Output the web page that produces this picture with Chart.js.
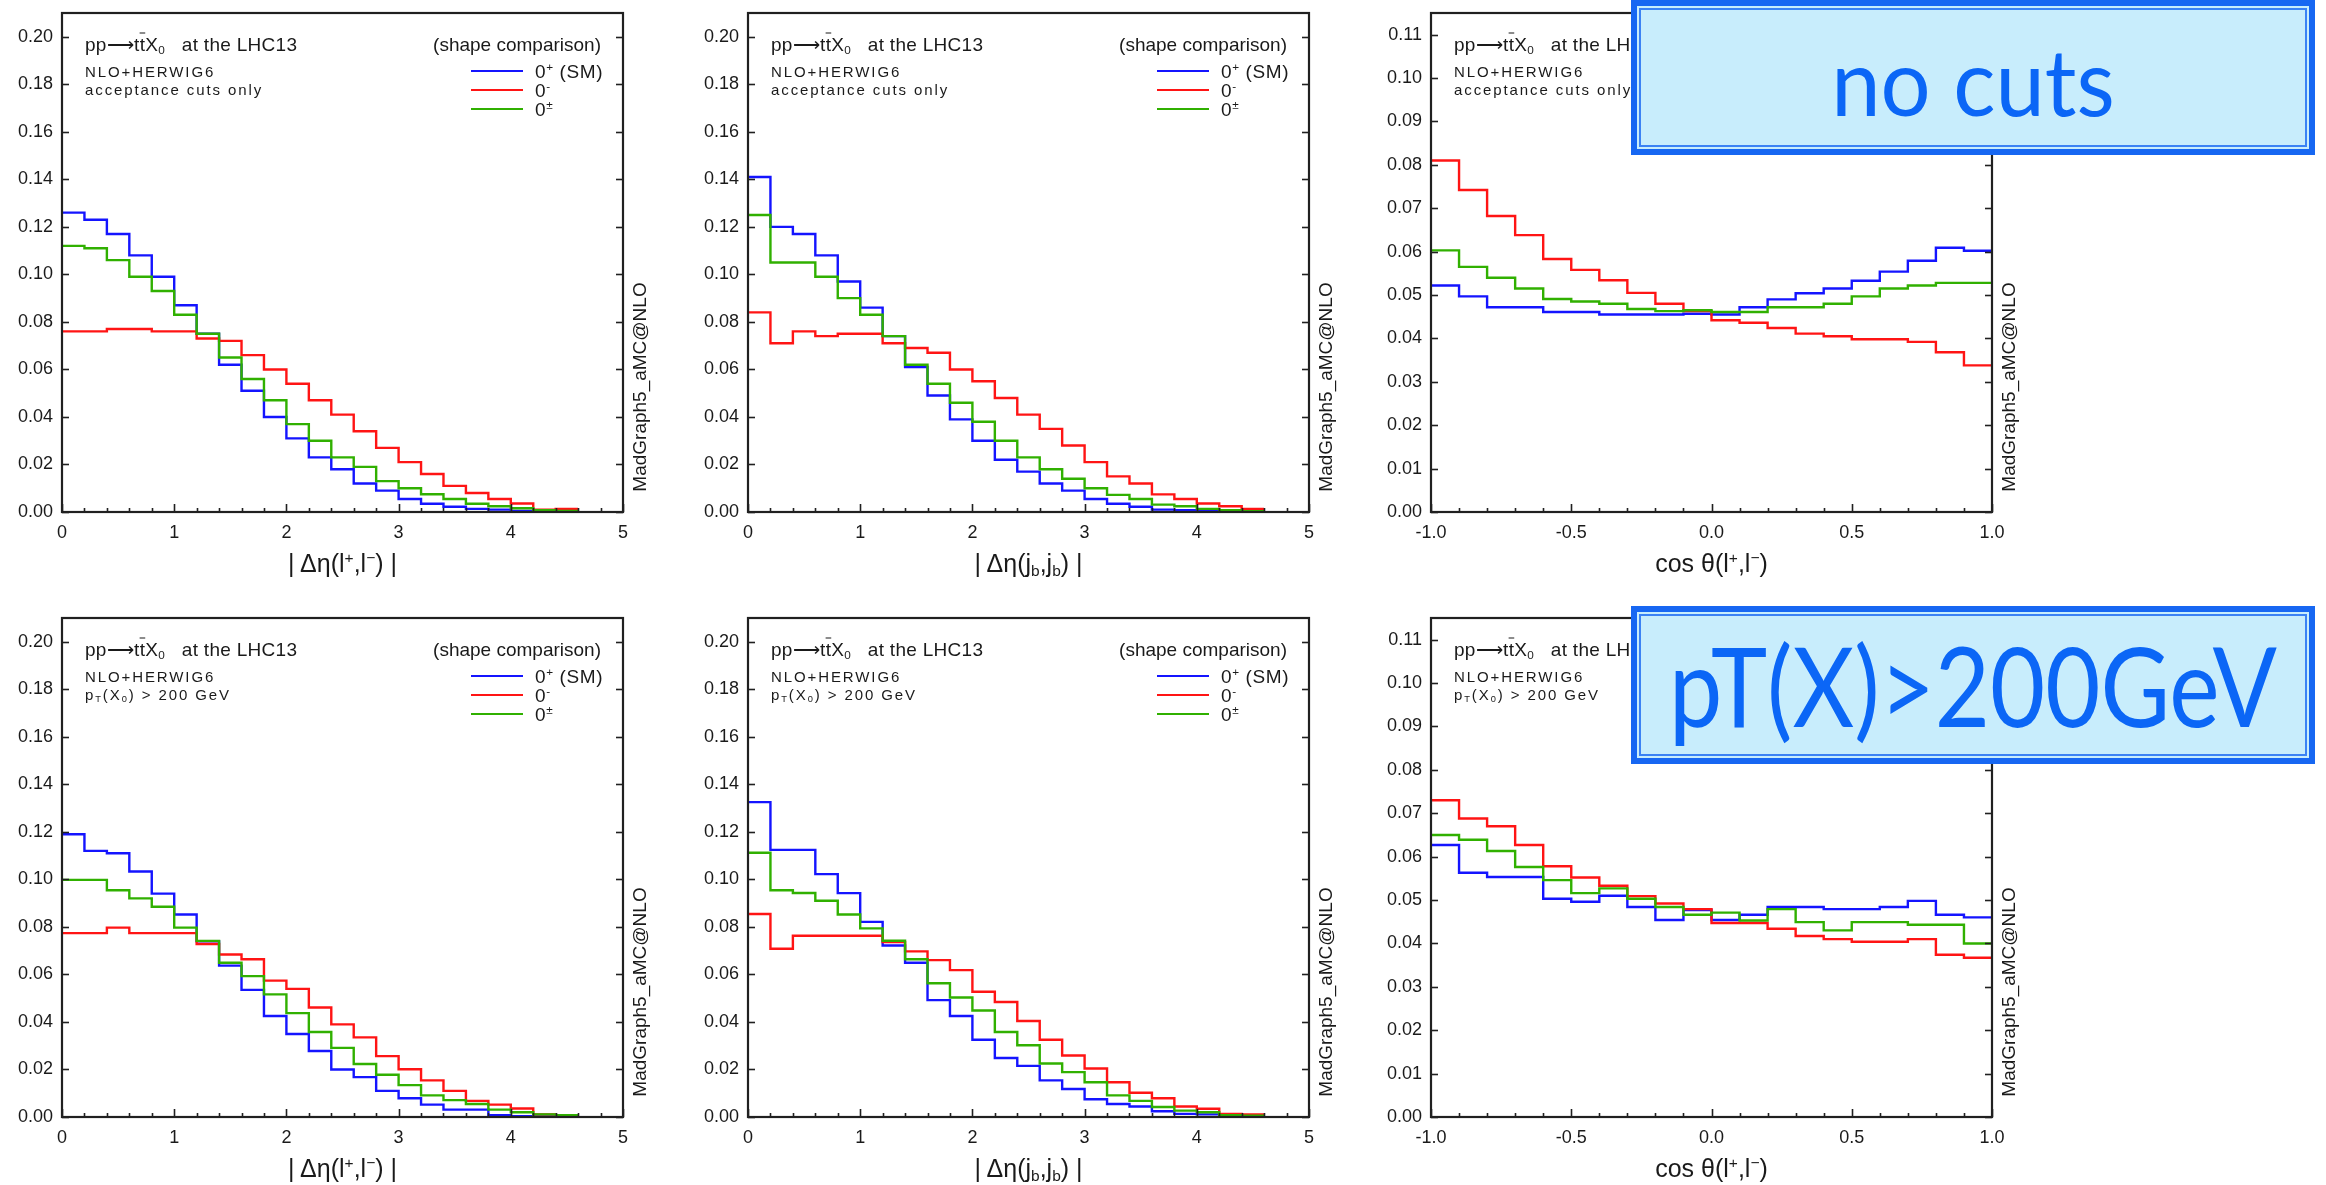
<!DOCTYPE html>
<html>
<head>
<meta charset="utf-8">
<title>ttX0 shape comparison</title>
<script src="https://cdn.jsdelivr.net/npm/chart.js@4.4.1/dist/chart.umd.min.js"></script>
<style>
  body { margin: 0; background: #fff; }
  #page { position: relative; width: 2326px; height: 1185px; overflow: hidden; font-family: "Liberation Sans", Arial, sans-serif; color: #1a1a1a; }
  canvas { position: absolute; }
  .overlay { position: absolute; pointer-events: none; }
  .t { position: absolute; white-space: nowrap; line-height: 1; transform: translateY(-50%); }
  .small { font-size: 15px; letter-spacing: 1.9px; }
  .ov { text-decoration: overline; }
  sub, sup { font-size: 0.62em; line-height: 0; }
  sub { vertical-align: -0.3em; }
  sup { vertical-align: 0.55em; }
  .key { position: absolute; height: 0; border-top: 2.5px solid; }
  .madgraph { position: absolute; font-size: 19px; white-space: nowrap; line-height: 1; transform: translate(-50%, -50%) rotate(-90deg); }
  .xtitle { position: absolute; font-size: 25px; white-space: nowrap; line-height: 1; transform: translate(-50%, -50%); }
  .stamp { position: absolute; box-sizing: border-box; background: #c8edfc; border: 6px solid #1767f2; box-shadow: inset 0 0 0 2px #c8edfc, inset 0 0 0 4px #3b82f4; z-index: 5; }
  .stamp span { position: absolute; left: 50%; font-family: Lato, "Open Sans", sans-serif; color: #0b66f6; white-space: nowrap; line-height: 1; transform-origin: 50% 50%; }
</style>
</head>
<body>
<div id="page"></div>
<script>
// Bin edges (lower edges plus the last upper edge)
const etaEdges = [0, 0.2, 0.4, 0.6, 0.8, 1.0, 1.2, 1.4, 1.6, 1.8, 2.0, 2.2, 2.4, 2.6, 2.8, 3.0, 3.2, 3.4, 3.6, 3.8, 4.0, 4.2, 4.4, 4.6];
const cosEdges = [-1.0, -0.9, -0.8, -0.7, -0.6, -0.5, -0.4, -0.3, -0.2, -0.1, 0.0, 0.1, 0.2, 0.3, 0.4, 0.5, 0.6, 0.7, 0.8, 0.9, 1.0];

// |Delta eta(l+,l-)|, acceptance cuts only
const llNoCutSM = [0.126, 0.123, 0.117, 0.108, 0.099, 0.087, 0.075, 0.062, 0.051, 0.040, 0.031, 0.023, 0.018, 0.012, 0.009, 0.0055, 0.0035, 0.0022, 0.0013, 0.001, 0.0004, 0.0002, 0.0001];
const llNoCutMinus = [0.076, 0.076, 0.077, 0.077, 0.076, 0.076, 0.073, 0.072, 0.066, 0.060, 0.054, 0.047, 0.041, 0.034, 0.027, 0.021, 0.016, 0.011, 0.008, 0.0055, 0.0036, 0.001, 0.0013];
const llNoCutMix = [0.112, 0.111, 0.106, 0.099, 0.093, 0.083, 0.075, 0.065, 0.056, 0.047, 0.037, 0.030, 0.023, 0.019, 0.013, 0.010, 0.0075, 0.0055, 0.0035, 0.0024, 0.0016, 0.0008, 0.0004];

// |Delta eta(jb,jb)|, acceptance cuts only
const bbNoCutSM = [0.141, 0.120, 0.117, 0.108, 0.097, 0.086, 0.074, 0.061, 0.049, 0.039, 0.030, 0.022, 0.017, 0.012, 0.009, 0.0055, 0.0035, 0.0022, 0.001, 0.0008, 0.0005, 0.0003, 0.0001];
const bbNoCutMinus = [0.084, 0.071, 0.076, 0.074, 0.075, 0.075, 0.071, 0.069, 0.067, 0.060, 0.055, 0.048, 0.041, 0.035, 0.028, 0.021, 0.015, 0.012, 0.0074, 0.0055, 0.0036, 0.0024, 0.0013];
const bbNoCutMix = [0.125, 0.105, 0.105, 0.099, 0.090, 0.083, 0.074, 0.062, 0.054, 0.046, 0.038, 0.030, 0.023, 0.018, 0.014, 0.010, 0.0072, 0.0055, 0.0031, 0.0024, 0.0013, 0.0008, 0.0003];

// cos theta(l+,l-), acceptance cuts only
const cosNoCutSM = [0.0522, 0.0497, 0.0472, 0.0472, 0.0461, 0.0461, 0.0455, 0.0455, 0.0455, 0.0457, 0.0455, 0.0472, 0.049, 0.0504, 0.0515, 0.0533, 0.0554, 0.0579, 0.0609, 0.0602];
const cosNoCutMinus = [0.081, 0.0742, 0.0682, 0.0638, 0.0583, 0.0558, 0.0534, 0.0505, 0.048, 0.0463, 0.0442, 0.0436, 0.0424, 0.0411, 0.0405, 0.0398, 0.0398, 0.0392, 0.0368, 0.0338];
const cosNoCutMix = [0.0603, 0.0565, 0.054, 0.0515, 0.0491, 0.0485, 0.048, 0.0468, 0.0463, 0.0465, 0.0461, 0.0461, 0.0472, 0.0472, 0.048, 0.0497, 0.0515, 0.0522, 0.0528, 0.0528];

// |Delta eta(l+,l-)|, pT(X0) > 200 GeV
const llPtSM = [0.119, 0.112, 0.111, 0.1033, 0.094, 0.0852, 0.0739, 0.0637, 0.0535, 0.0425, 0.0349, 0.0278, 0.020, 0.0168, 0.011, 0.0079, 0.0052, 0.0031, 0.0031, 0.0008, 0.0003, 0.0002, 0.0001];
const llPtMinus = [0.0774, 0.0774, 0.0797, 0.0774, 0.0774, 0.0774, 0.0728, 0.0684, 0.0664, 0.0574, 0.0539, 0.0461, 0.039, 0.0335, 0.0256, 0.0201, 0.0154, 0.011, 0.0068, 0.0052, 0.0036, 0.0011, 0.0008];
const llPtMix = [0.0998, 0.0998, 0.0954, 0.092, 0.0885, 0.0797, 0.0741, 0.0649, 0.0593, 0.0516, 0.0437, 0.0358, 0.0291, 0.0223, 0.0178, 0.0134, 0.0091, 0.0071, 0.0055, 0.0031, 0.002, 0.0011, 0.0008];

// |Delta eta(jb,jb)|, pT(X0) > 200 GeV
const bbPtSM = [0.1325, 0.1124, 0.1124, 0.1022, 0.0942, 0.0821, 0.0722, 0.0649, 0.0492, 0.0425, 0.0325, 0.0248, 0.0215, 0.0154, 0.0118, 0.0075, 0.0055, 0.0044, 0.0024, 0.0013, 0.0011, 0.0005, 0.0002];
const bbPtMinus = [0.0854, 0.0708, 0.0763, 0.0763, 0.0763, 0.0763, 0.0736, 0.0697, 0.066, 0.0618, 0.0527, 0.0484, 0.0404, 0.0325, 0.0259, 0.0204, 0.0146, 0.0102, 0.0079, 0.0044, 0.0035, 0.0013, 0.0011];
const bbPtMix = [0.1112, 0.0954, 0.0943, 0.091, 0.0852, 0.0794, 0.0742, 0.0664, 0.0563, 0.0503, 0.0448, 0.0358, 0.0302, 0.0225, 0.0189, 0.0146, 0.0091, 0.0068, 0.0042, 0.0027, 0.002, 0.0008, 0.0005];

// cos theta(l+,l-), pT(X0) > 200 GeV
const cosPtSM = [0.0627, 0.0563, 0.0553, 0.0553, 0.0503, 0.0496, 0.051, 0.0484, 0.0454, 0.0477, 0.0454, 0.0466, 0.0484, 0.0484, 0.0479, 0.0479, 0.0484, 0.0498, 0.0466, 0.046];
const cosPtMinus = [0.073, 0.0688, 0.067, 0.0627, 0.0578, 0.0552, 0.0533, 0.0509, 0.0492, 0.0479, 0.0447, 0.0447, 0.0434, 0.0417, 0.041, 0.0404, 0.0404, 0.041, 0.0374, 0.0367];
const cosPtMix = [0.065, 0.0639, 0.0613, 0.0576, 0.0546, 0.0516, 0.0527, 0.0503, 0.0484, 0.0466, 0.0471, 0.0453, 0.0479, 0.0449, 0.043, 0.0449, 0.0449, 0.0443, 0.0443, 0.04];

const seriesLabels = ['0<sup>+</sup> (SM)', '0<sup>-</sup>', '0<sup>±</sup>'];
const COLORS = ['#1414ff', '#ff1414', '#30b000'];

const PLOT_W = 561, PLOT_H = 499;
const PAD_L = 62, PAD_T = 30, PAD_R = 40, PAD_B = 40;

const TITLE_LL = '| Δη(l<sup>+</sup>,l<sup>−</sup>) |';
const TITLE_BB = '| Δη(j<sub>b</sub>,j<sub>b</sub>) |';
const TITLE_COS = 'cos θ(l<sup>+</sup>,l<sup>−</sup>)';
const CUT_ACC = 'acceptance cuts only';
const CUT_PT = 'p<sub>T</sub>(X<sub>0</sub>) &gt; 200 GeV';

const panels = [
  { left: 62, top: 13, kind: 'eta', edges: etaEdges, series: [llNoCutSM, llNoCutMinus, llNoCutMix], xTitle: TITLE_LL, cut: CUT_ACC },
  { left: 748, top: 13, kind: 'eta', edges: etaEdges, series: [bbNoCutSM, bbNoCutMinus, bbNoCutMix], xTitle: TITLE_BB, cut: CUT_ACC },
  { left: 1431, top: 13, kind: 'cos', edges: cosEdges, series: [cosNoCutSM, cosNoCutMinus, cosNoCutMix], xTitle: TITLE_COS, cut: CUT_ACC },
  { left: 62, top: 618, kind: 'eta', edges: etaEdges, series: [llPtSM, llPtMinus, llPtMix], xTitle: TITLE_LL, cut: CUT_PT },
  { left: 748, top: 618, kind: 'eta', edges: etaEdges, series: [bbPtSM, bbPtMinus, bbPtMix], xTitle: TITLE_BB, cut: CUT_PT },
  { left: 1431, top: 618, kind: 'cos', edges: cosEdges, series: [cosPtSM, cosPtMinus, cosPtMix], xTitle: TITLE_COS, cut: CUT_PT },
];

const page = document.getElementById('page');

// step histogram points: one per lower edge, last edge repeats the last bin
function histPoints(edges, values) {
  return edges.map((x, i) => ({ x: x, y: values[Math.min(i, values.length - 1)] }));
}

// box frame with inward ticks
const framePlugin = {
  id: 'frame',
  afterDatasetsDraw(chart, args, opts) {
    const { ctx, chartArea: a, scales } = chart;
    const xs = scales.x, ys = scales.y;
    const seg = (x1, y1, x2, y2) => { ctx.beginPath(); ctx.moveTo(x1, y1); ctx.lineTo(x2, y2); ctx.stroke(); };
    ctx.save();
    ctx.strokeStyle = '#202020';
    ctx.lineWidth = 1.6;
    ys.ticks.forEach(t => {
      const py = Math.round(ys.getPixelForValue(t.value)) + 0.5;
      seg(a.left, py, a.left + 7, py);
      seg(a.right, py, a.right - 7, py);
    });
    const n = Math.round((xs.max - xs.min) / opts.minor);
    for (let i = 0; i <= n; i++) {
      const v = xs.min + i * opts.minor;
      const major = xs.ticks.some(t => Math.abs(t.value - v) < 1e-6);
      const px = Math.round(xs.getPixelForValue(v)) + 0.5;
      seg(px, a.bottom, px, a.bottom - (major ? 8 : 4));
    }
    ctx.lineWidth = 2.2;
    ctx.strokeRect(a.left, a.top, a.right - a.left, a.bottom - a.top);
    ctx.restore();
  }
};

function makePanel(p) {
  const isCos = p.kind === 'cos';
  const canvas = document.createElement('canvas');
  const w = PLOT_W + PAD_L + PAD_R, h = PLOT_H + PAD_T + PAD_B;
  canvas.width = w;
  canvas.height = h;
  canvas.style.left = (p.left - PAD_L) + 'px';
  canvas.style.top = (p.top - PAD_T) + 'px';
  canvas.style.width = w + 'px';
  canvas.style.height = h + 'px';
  page.appendChild(canvas);

  const tickFont = { family: 'Liberation Sans', size: 18 };
  new Chart(canvas, {
    type: 'line',
    data: {
      datasets: p.series.map((vals, i) => ({
        data: histPoints(p.edges, vals),
        borderColor: COLORS[i],
        borderWidth: 2.4,
        stepped: true,
        fill: false,
        pointRadius: 0,
        order: 2 - i,
      })),
    },
    options: {
      responsive: false,
      animation: false,
      devicePixelRatio: 1,
      layout: { padding: { left: 0, top: PAD_T, right: PAD_R, bottom: 0 } },
      plugins: {
        legend: { display: false },
        tooltip: { enabled: false },
        frame: { minor: isCos ? 0.1 : 0.2 },
      },
      scales: {
        x: {
          type: 'linear',
          min: isCos ? -1 : 0,
          max: isCos ? 1 : 5,
          grid: { display: false, drawTicks: false },
          border: { display: false },
          ticks: {
            stepSize: isCos ? 0.5 : 1,
            padding: 10,
            color: '#1a1a1a',
            font: tickFont,
            maxRotation: 0,
            autoSkip: false,
            includeBounds: false,
            callback: v => isCos ? Number(v).toFixed(1) : String(v),
          },
          afterFit: s => { s.height = PAD_B; },
        },
        y: {
          min: 0,
          max: isCos ? 0.115 : 0.21,
          grid: { display: false, drawTicks: false },
          border: { display: false },
          ticks: {
            stepSize: isCos ? 0.01 : 0.02,
            padding: 9,
            color: '#1a1a1a',
            font: tickFont,
            includeBounds: false,
            callback: v => Number(v).toFixed(2),
          },
          afterFit: s => { s.width = PAD_L; },
        },
      },
    },
    plugins: [framePlugin],
  });

  // annotations inside the frame
  const ov = document.createElement('div');
  ov.className = 'overlay';
  ov.style.left = p.left + 'px';
  ov.style.top = p.top + 'px';
  ov.style.width = PLOT_W + 'px';
  ov.style.height = PLOT_H + 'px';
  let html = '';
  html += '<div class="t" style="left:23px;top:31px;font-size:19px;letter-spacing:0.3px">pp⟶t<span class="ov">t</span>X<sub>0</sub>&nbsp;&nbsp; at the LHC13</div>';
  html += '<div class="t" style="right:22px;top:31px;font-size:19px">(shape comparison)</div>';
  html += '<div class="t small" style="left:23px;top:58px">NLO+HERWIG6</div>';
  html += '<div class="t small" style="left:23px;top:76px">' + p.cut + '</div>';
  const keyY = [58, 77, 96];
  seriesLabels.forEach((lab, i) => {
    html += '<div class="key" style="left:409px;width:52px;top:' + (keyY[i] - 1) + 'px;border-color:' + COLORS[i] + '"></div>';
    html += '<div class="t" style="left:473px;top:' + keyY[i] + 'px;font-size:19px;letter-spacing:0.6px">' + lab + '</div>';
  });
  ov.innerHTML = html;
  page.appendChild(ov);

  const mg = document.createElement('div');
  mg.className = 'madgraph';
  mg.style.left = (p.left + PLOT_W + 16) + 'px';
  mg.style.top = (p.top + 374) + 'px';
  mg.textContent = 'MadGraph5_aMC@NLO';
  page.appendChild(mg);

  const xt = document.createElement('div');
  xt.className = 'xtitle';
  xt.style.left = (p.left + PLOT_W / 2) + 'px';
  xt.style.top = (p.top + PLOT_H + 51) + 'px';
  xt.innerHTML = p.xTitle;
  page.appendChild(xt);
}

panels.forEach(makePanel);

// highlighted labels on the right column
const stamps = [
  { text: 'no cuts', left: 1631, top: 0, w: 684, h: 155, size: 94, textTop: 27, textW: 284 },
  { text: 'pT(X)>200GeV', left: 1631, top: 606, w: 684, h: 158, size: 110, textTop: 17, textW: 608 },
];
stamps.forEach(s => {
  const box = document.createElement('div');
  box.className = 'stamp';
  box.style.left = s.left + 'px';
  box.style.top = s.top + 'px';
  box.style.width = s.w + 'px';
  box.style.height = s.h + 'px';
  const span = document.createElement('span');
  span.textContent = s.text;
  span.style.fontSize = s.size + 'px';
  span.style.top = s.textTop + 'px';
  box.appendChild(span);
  page.appendChild(box);
  const k = s.textW / span.offsetWidth;
  span.style.transform = 'translateX(-50%) scaleX(' + k.toFixed(3) + ')';
});
</script>
</body>
</html>
